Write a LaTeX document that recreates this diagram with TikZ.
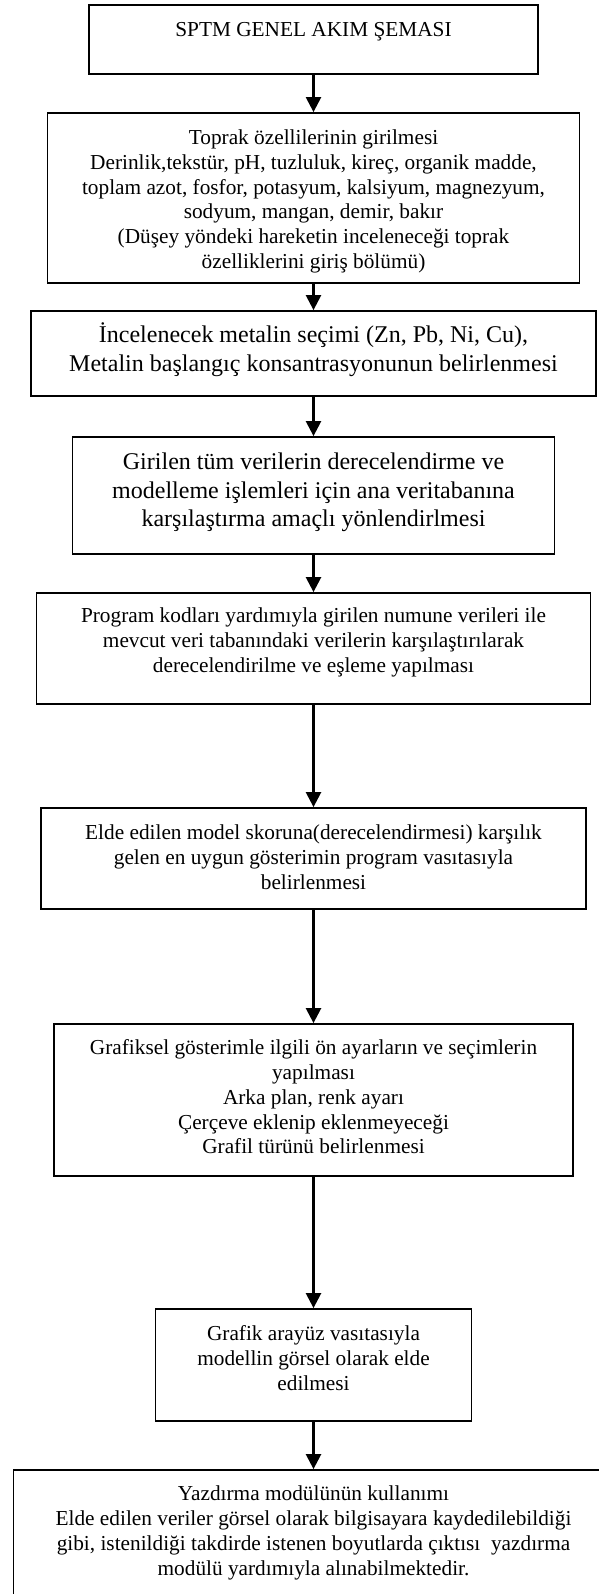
\documentclass[tikz,border=0pt]{standalone}
\usepackage{fontspec}
\setmainfont{Liberation Serif}
\usetikzlibrary{arrows.meta}

\begin{document}
\begin{tikzpicture}[
          x=1pt, y=-1pt,
          stepbox/.style={draw, line width=1.8pt, inner sep=0pt},
          steptext/.style={anchor=north, align=center, inner sep=0pt,
                           font=\fontsize{21.3}{24.8}\selectfont},
          bigtext/.style={steptext, font=\fontsize{24}{28.5}\selectfont},
          flow/.style={line width=2.4pt, -{Triangle[length=15pt, width=15pt]}},
        ]
  \useasboundingbox (0,0) rectangle (599,1594);

  % boxes (centre x = 313.5)
  \node[stepbox, minimum width=449pt, minimum height=69pt]  (b1) at (313.5,  39.5) {};
  \node[stepbox, minimum width=532pt, minimum height=170pt] (b2) at (313.5, 198)   {};
  \node[stepbox, minimum width=565pt, minimum height=85pt]  (b3) at (313.5, 353.5) {};
  \node[stepbox, minimum width=482pt, minimum height=117pt] (b4) at (313.5, 495.5) {};
  \node[stepbox, minimum width=554pt, minimum height=111pt] (b5) at (313.5, 648.5) {};
  \node[stepbox, minimum width=545pt, minimum height=101pt] (b6) at (313.5, 858.5) {};
  \node[stepbox, minimum width=519pt, minimum height=152pt] (b7) at (313.5, 1100)  {};
  \node[stepbox, minimum width=316pt, minimum height=112pt] (b8) at (313.5, 1365)  {};
  \node[stepbox, minimum width=600pt, minimum height=150pt] (b9) at (313.5, 1545)  {};

  % texts
  \node[steptext] (t1) at (313.5, 22) {SPTM GENEL AKIM ŞEMASI};
  \node[steptext] (t2) at (313.5, 129.5) {Toprak özellilerinin girilmesi\\
    Derinlik,tekstür, pH, tuzluluk, kireç, organik madde,\\
    toplam azot, fosfor, potasyum, kalsiyum, magnezyum,\\
    sodyum, mangan, demir, bakır\\
    (Düşey yöndeki hareketin inceleneceği toprak\\
    özelliklerini giriş bölümü)};
  \node[bigtext] (t3) at (313.5, 322.5) {İncelenecek metalin seçimi (Zn, Pb, Ni, Cu),\\
    Metalin başlangıç konsantrasyonunun belirlenmesi};
  \node[bigtext] (t4) at (313.5, 453) {Girilen tüm verilerin derecelendirme ve\\
    modelleme işlemleri için ana veritabanına\\
    karşılaştırma amaçlı yönlendirlmesi};
  \node[steptext] (t5) at (313.5, 607.5) {Program kodları yardımıyla girilen numune verileri ile\\
    mevcut veri tabanındaki verilerin karşılaştırılarak\\
    derecelendirilme ve eşleme yapılması};
  \node[steptext] (t6) at (313.5, 825) {Elde edilen model skoruna(derecelendirmesi) karşılık\\
    gelen en uygun gösterimin program vasıtasıyla\\
    belirlenmesi};
  \node[steptext] (t7) at (313.5, 1039.5) {Grafiksel gösterimle ilgili ön ayarların ve seçimlerin\\
    yapılması\\
    Arka plan, renk ayarı\\
    Çerçeve eklenip eklenmeyeceği\\
    Grafil türünü belirlenmesi};
  \node[steptext] (t8) at (313.5, 1325.5) {Grafik arayüz vasıtasıyla\\
    modellin görsel olarak elde\\
    edilmesi};
  \node[steptext] (t9) at (313.5, 1486) {Yazdırma modülünün kullanımı\\
    Elde edilen veriler görsel olarak bilgisayara kaydedilebildiği\\
    gibi, istenildiği takdirde istenen boyutlarda çıktısı\ \ yazdırma\\
    modülü yardımıyla alınabilmektedir.};

  % arrows
  \draw[flow] (b1) -- (b2);
  \draw[flow] (b2) -- (b3);
  \draw[flow] (b3) -- (b4);
  \draw[flow] (b4) -- (b5);
  \draw[flow] (b5) -- (b6);
  \draw[flow] (b6) -- (b7);
  \draw[flow] (b7) -- (b8);
  \draw[flow] (b8) -- (b9);
\end{tikzpicture}
\end{document}
